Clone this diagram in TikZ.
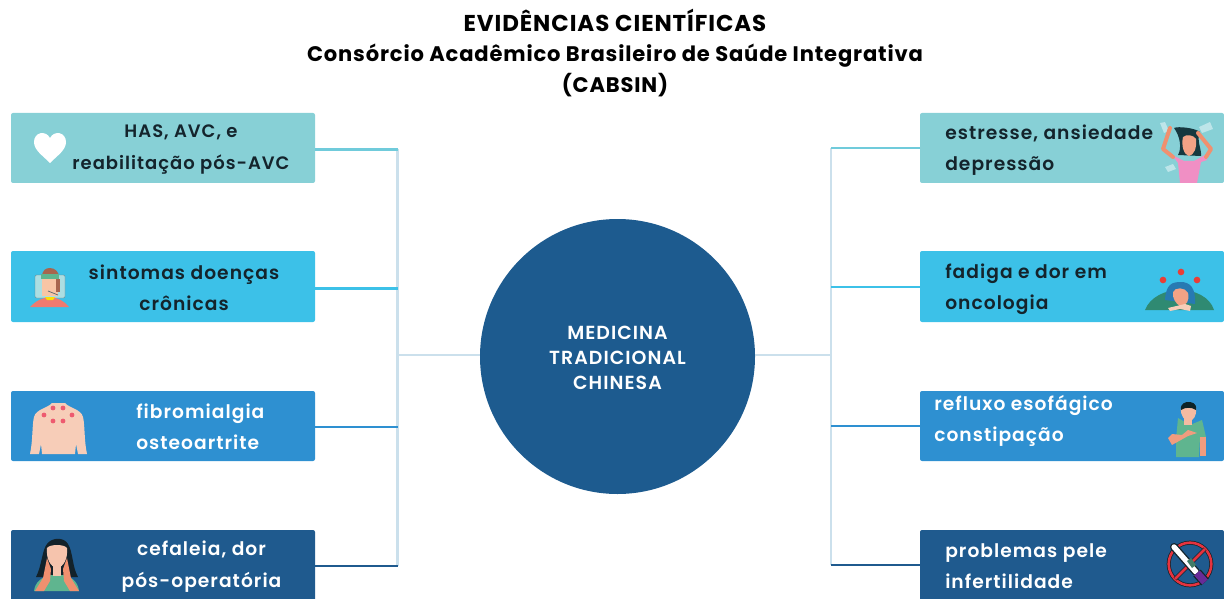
\documentclass[tikz,border=0pt]{standalone}
\usepackage{fontspec}
\setmainfont[LetterSpace=5.5,BoldFont={Poppins SemiBold}]{Poppins}
\newfontfamily\titlefont[LetterSpace=4]{Poppins}
\definecolor{cTeal}{HTML}{87D0D6}
\definecolor{cCyan}{HTML}{3CC1E8}
\definecolor{cBlue}{HTML}{2E90D1}
\definecolor{cNavy}{HTML}{1F5A8E}
\definecolor{cCirc}{HTML}{1D5B8F}
\definecolor{cTrunk}{HTML}{CBE0EC}
\definecolor{cInk}{HTML}{14242C}
\definecolor{cSkin}{HTML}{F7CDB8}
\definecolor{cSkinD}{HTML}{F0906F}
\definecolor{cDot}{HTML}{EE5A6F}
\definecolor{cHair}{HTML}{16383F}
\definecolor{cGreen}{HTML}{5FB58F}
\definecolor{cDGreen}{HTML}{2F8A72}
\definecolor{cPink}{HTML}{F08FC4}
\definecolor{cRed}{HTML}{E5333F}
\tikzset{
  box/.style={rounded corners=1.5pt,inner sep=0,outer sep=0,anchor=north west},
  lbl/.style={font=\bfseries\fontsize{14}{23.5}\selectfont,align=center,text=cInk,inner sep=0},
  lbr/.style={lbl,align=left,anchor=west},
  wht/.style={text=white},
  branch/.style={line width=2pt},
  trunk/.style={line width=2pt,cTrunk},
}
\begin{document}
\begin{tikzpicture}[x=0.75pt,y=-0.75pt]
\useasboundingbox (0,0) rectangle (1224,599);
% title
\node[font=\titlefont\bfseries\fontsize{15.8}{23}\selectfont,align=center,inner sep=0,text=black] (title) at (615,53)
 {{\fontsize{17.2}{23}\selectfont EVIDÊNCIAS CIENTÍFICAS}\\Consórcio Acadêmico Brasileiro de Saúde Integrativa\\(CABSIN)};
% boxes
\newcommand{\mybox}[6]{\node[box,fill=#6,minimum width=#4*0.75pt,minimum height=#5*0.75pt] (#1) at (#2,#3) {};}
\mybox{l1}{11}{113}{304}{70}{cTeal}
\mybox{l2}{11}{251}{304}{71}{cCyan}
\mybox{l3}{11}{391}{304}{70}{cBlue}
\mybox{l4}{11}{530}{304}{78}{cNavy}
\mybox{r1}{920}{113}{304}{70}{cTeal}
\mybox{r2}{920}{251}{304}{71}{cCyan}
\mybox{r3}{920}{391}{304}{70}{cBlue}
\mybox{r4}{920}{530}{304}{78}{cNavy}
% centre
\node[circle,fill=cCirc,minimum size=206.25pt,inner sep=0,outer sep=0] (hub) at (617.5,356.5) {};
\node[text=white,align=center,inner sep=0,font=\bfseries\fontsize{14.2}{18.7}\selectfont] (hubt) at (617.5,358) {MEDICINA\\TRADICIONAL\\CHINESA};
% connectors
\coordinate (tl1) at (397.5,149.5);
\coordinate (tl2) at (397.5,288.5);
\coordinate (tl3) at (397.5,427);
\coordinate (tl4) at (397.5,566);
\coordinate (tr1) at (831,148);
\coordinate (tr2) at (831,287);
\coordinate (tr3) at (831,426);
\coordinate (tr4) at (831,565);
\coordinate (tlm) at (397.5,355);
\coordinate (trm) at (831,355);
\draw[trunk] (tl1) -- (tl4);
\draw[trunk] (tr1) -- (tr4);
\draw[trunk] (tlm) -- (hub.west |- tlm);
\draw[trunk] (trm) -- (hub.east |- trm);
\draw[branch,cTeal!70!cCyan] (l1.east |- tl1) -- (tl1);
\draw[branch,cCyan] (l2.east |- tl2) -- (tl2);
\draw[branch,cBlue] (l3.east |- tl3) -- (tl3);
\draw[branch,cNavy] (l4.east |- tl4) -- (tl4);
\draw[branch,cTeal!70!cCyan] (r1.west |- tr1) -- (tr1);
\draw[branch,cCyan] (r2.west |- tr2) -- (tr2);
\draw[branch,cBlue] (r3.west |- tr3) -- (tr3);
\draw[branch,cNavy] (r4.west |- tr4) -- (tr4);
% labels
\node[lbl,font=\bfseries\fontsize{13.5}{23.5}\selectfont] (t1) at (181,149.5) {HAS, AVC, e\\reabilitação pós-AVC};
\node[lbl] (t2) at (184,288) {sintomas doenças\\crônicas};
\node[lbr,wht] (t3) at (136,427) {fibromialgia\\osteoartrite};
\node[lbl,wht] (t4) at (201.5,566.5) {cefaleia, dor\\pós-operatória};
\node[lbr] (t5) at (945,150) {estresse, ansiedade\\depressão};
\node[lbr] (t6) at (945,289) {fadiga e dor em\\oncologia};
\node[lbr,wht] (t7) at (934,421) {refluxo esofágico\\constipação};
\node[lbr,wht] (t8) at (945,566) {problemas pele\\infertilidade};
% heart
\fill[white] (50,163) .. controls (42,155) and (34,150) .. (34,142) .. controls (34,132) and (46,130) .. (50,138) .. controls (54,130) and (66,132) .. (66,142) .. controls (66,150) and (58,155) .. (50,163) -- cycle;
% sick person
\fill[cTeal!70!white,draw=cInk!60,line width=.3pt,rounded corners=1pt] (35,275) rectangle (65,298);
\fill[cSkinD!60!cDot] (30,307) .. controls (37,300) and (42,298) .. (50,297) .. controls (58,298) and (63,300) .. (69,307) -- cycle;
\fill[yellow!80!orange] (45,297) -- (55,297) -- (53,300) -- (47,300) -- cycle;
\fill[cSkin!90!orange] (42,277) rectangle (58,296);
\fill[cSkinD!70!black] (42,277) .. controls (42,270) and (46,268) .. (50,268) .. controls (55,268) and (59,272) .. (59,277) -- cycle;
\fill[cGreen] (41,274) rectangle (59,279);
\fill[cSkinD!70!black] (56,279) rectangle (60,292);
\draw[cInk!70,line width=.5pt] (48,291) -- (58,295);
% back with points
\fill[cSkin] (30,454) .. controls (33,440) and (32,425) .. (34,417) .. controls (36,409) and (48,408) .. (52,403) -- (65,403) .. controls (69,408) and (81,409) .. (83,417) .. controls (85,425) and (84,440) .. (87,454) -- (78,454) -- (76,444) -- (75,454) -- (42,454) -- (41,444) -- (39,454) -- cycle;
\foreach \px/\py in {44/415,53/408,63/408,72/415,53/421,63/421}
  \fill[cDot] (\px,\py) circle[radius=1.8pt];
% woman with headache
\fill[cInk!95!black] (36,577) .. controls (42,565) and (42,550) .. (47,544) .. controls (52,537) and (64,537) .. (68,544) .. controls (73,552) and (72,566) .. (78,577) -- cycle;
\fill[cGreen] (34,591) .. controls (35,582) and (42,577) .. (50,575) -- (64,575) .. controls (72,577) and (78,582) .. (79,591) -- cycle;
\fill[cSkin!85!cSkinD] (47,548) .. controls (50,544) and (64,544) .. (67,548) .. controls (68,558) and (64,567) .. (57,568) .. controls (50,567) and (46,558) .. (47,548) -- cycle;
\fill[cSkin!85!cSkinD] (53,566) rectangle (61,576);
\fill[cSkinD] (47,558) -- (51,569) -- (50,581) -- (44,591) -- (35,591) -- (43,578) -- cycle;
\fill[cSkinD] (67,558) -- (63,569) -- (64,581) -- (70,591) -- (79,591) -- (71,578) -- cycle;
% stressed woman
\fill[cTeal!55!white] (1160,123) -- (1165,122) -- (1169,131) -- (1164,133) -- cycle;
\fill[cTeal!55!white] (1199,127) -- (1210,122) -- (1213,129) -- (1202,133) -- cycle;
\fill[cTeal!55!white] (1165,167) -- (1173,164) -- (1176,169) -- (1168,172) -- cycle;
\fill[cPink] (1172,155) -- (1184,161) -- (1194,161) -- (1205,155) -- (1207,160) -- (1201,162) -- (1197,183) -- (1180,183) -- (1178,163) -- cycle;
\fill[cHair] (1174,128) .. controls (1178,126) and (1195,128) .. (1200,132) .. controls (1196,140) and (1202,150) .. (1201,156) -- (1178,155) .. controls (1182,148) and (1180,136) .. (1174,128) -- cycle;
\fill[cSkinD!70!cSkin] (1183,137) .. controls (1186,134) and (1194,135) .. (1196,139) .. controls (1197,148) and (1194,155) .. (1189,156) .. controls (1184,155) and (1181,146) .. (1183,137) -- cycle;
\draw[cSkinD,line width=3pt,line join=round,line cap=round] (1173,157) -- (1163,149) -- (1170,128);
\draw[cSkinD,line width=3pt,line join=round,line cap=round] (1206,157) -- (1211,149) -- (1198,133);
% exhausted woman
\foreach \px/\py in {1163/280,1181/272,1197/280}
  \fill[cRed!85!orange] (\px,\py) circle[radius=2.5pt];
\fill[cDGreen] (1145,310) .. controls (1150,297) and (1165,290) .. (1180,290) .. controls (1195,290) and (1210,297) .. (1214,310) -- cycle;
\fill[cBlue!85!black] (1165,300) .. controls (1166,284) and (1172,282) .. (1181,282) .. controls (1190,282) and (1196,288) .. (1195,304) -- cycle;
\fill[cSkinD!70!cSkin] (1173,292) .. controls (1175,287) and (1185,287) .. (1188,293) .. controls (1190,301) and (1186,306) .. (1180,306) .. controls (1176,304) and (1172,298) .. (1173,292) -- cycle;
\fill[cSkin] (1168,308) -- (1185,304) -- (1191,306) -- (1190,311) -- (1180,309) -- (1170,311) -- cycle;
% man hand on chest
\fill[cGreen] (1178,418) -- (1190,425) -- (1202,420) -- (1206,437) -- (1200,437) -- (1199,457) -- (1176,457) -- (1176,440) -- cycle;
\fill[cSkin!70!cSkinD] (1184,410) rectangle (1192,425);
\fill[cSkin!70!cSkinD] (1181,408) .. controls (1183,405) and (1195,405) .. (1196,408) .. controls (1197,416) and (1193,421) .. (1189,421) .. controls (1185,421) and (1180,416) .. (1181,408) -- cycle;
\fill[cHair!60!black] (1181,410) .. controls (1180,403) and (1186,402) .. (1188,402) .. controls (1192,402) and (1197,403) .. (1196,410) .. controls (1192,407) and (1185,407) .. (1181,410) -- cycle;
\fill[cSkinD!80!cSkin] (1168,438) -- (1172,445) -- (1188,436) -- (1197,433) -- (1188,430) -- (1182,435) -- (1172,434) -- cycle;
\fill[cSkinD!80!cSkin] (1200,437) rectangle (1206,456);
% no-thermometer
\draw[cInk,line width=3pt] (1190,564) circle[radius=16pt];
\draw[cRed,line width=1.9pt] (1190,564) circle[radius=16pt];
\draw[cInk,line width=3pt] (1175,579) -- (1205,549);
\draw[cRed,line width=1.9pt] (1175,579) -- (1205,549);
\draw[cInk,line width=6pt,line cap=round] (1174,547) -- (1196,572);
\draw[white,line width=4pt,line cap=round] (1174,547) -- (1196,572);
\fill[cGreen!60!cInk] (1187,561) -- (1191,558) -- (1196,565) -- (1192,568) -- cycle;
\draw[cInk,line width=7.5pt] (1197,573) -- (1205,582);
\draw[violet!70!cBlue,line width=5.6pt] (1197,573) -- (1205,582);
\end{tikzpicture}
\end{document}
